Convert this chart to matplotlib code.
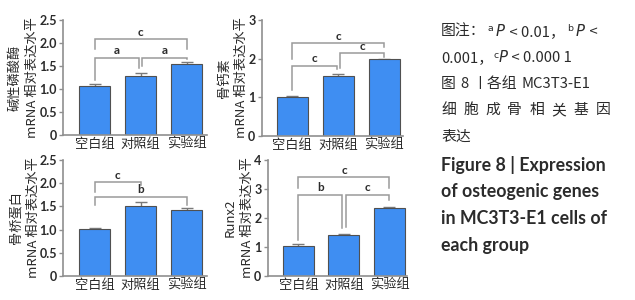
import matplotlib
matplotlib.use("Agg")
import matplotlib.pyplot as plt
from matplotlib.offsetbox import TextArea, HPacker, AnnotationBbox

CJK = ['Noto Sans CJK SC', 'DejaVu Sans']
LAT = ['Lato', 'DejaVu Sans']
plt.rcParams['font.family'] = CJK

# ---------------- data ----------------
groups = ["空白组", "对照组", "实验组"]

alp_mean = [1.07, 1.29, 1.55]
alp_err = [0.03, 0.06, 0.03]
ocn_mean = [1.02, 1.55, 1.98]
ocn_err = [0.02, 0.05, 0.02]
opn_mean = [1.01, 1.51, 1.43]
opn_err = [0.03, 0.08, 0.03]
runx2_mean = [1.03, 1.41, 2.33]
runx2_err = [0.06, 0.05, 0.06]

gene_labels = ["碱性磷酸酶", "骨钙素", "骨桥蛋白", "Runx2"]
ylabel_suffix = "mRNA 相对表达水平"

ticks_a = [0, 0.5, 1.0, 1.5, 2.0, 2.5]
ticklabels_a = ["0", "0.5", "1.0", "1.5", "2.0", "2.5"]
ticks_b = [0, 1, 2, 3]
ticklabels_b = ["0", "1", "2", "3"]
ticks_c = [0, 1, 2, 3, 4]
ticklabels_c = ["0", "1", "2", "3", "4"]

# significance brackets: (x_left, x_right, y_line, y_left_end, y_right_end, label)
brackets_alp = [(0, 2, 2.08, 1.86, 1.86, "c"),
                (0, 0.97, 1.68, 1.20, 1.45, "a"),
                (1.04, 2, 1.68, 1.49, 1.65, "a")]
brackets_ocn = [(0, 2, 2.40, 1.98, 2.29, "c"),
                (1.04, 2, 2.14, 1.77, 2.05, "c"),
                (0, 0.97, 1.81, 1.19, 1.72, "c")]
brackets_opn = [(0, 1.0, 2.02, 1.82, 1.96, "c"),
                (0, 2, 1.70, 1.53, 1.53, "b")]
brackets_runx2 = [(0, 2, 3.40, 3.02, 3.02, "c"),
                  (0, 0.95, 2.79, 1.24, 1.66, "b"),
                  (1.04, 2, 2.79, 1.70, 2.62, "c")]

caption_line1 = [("图注：", "cjk"), ("ᵃ", "sup"), ("P", "it"), (" < 0.01，", "cjk"),
                 ("ᵇ", "sup"), ("P", "it"), (" <", "cjk")]
caption_line2 = [("0.001，", "cjk"), ("ᶜ", "sup"), ("P", "it"), (" < 0.000 1", "cjk")]
caption_line3 = [("图", "cjk"), ("8", "cjk"), ("丨各组", "cjk"), ("MC3T3-E1", "cjk")]
caption_line4 = [(ch, "cjk") for ch in "细胞成骨相关基因"]
caption_line5 = [("表达", "cjk")]
caption_en = ["Figure 8 | Expression", "of osteogenic genes",
              "in MC3T3-E1 cells of", "each group"]

# ---------------- style / layout ----------------
W, H = 635, 300
BLUE = "#3f8ef2"
EDGE = "#505050"
GRAY = "#8f8f8f"
TXT = "#2b2b2b"

fig = plt.figure(figsize=(W / 100, H / 100), dpi=100)

panels = [
    dict(mean=alp_mean, err=alp_err, gene=gene_labels[0], ymax=2.5,
         ticks=ticks_a, tl=ticklabels_a, br=brackets_alp,
         rect=(63, 207, 20, 135), xlim=(-0.685, 2.445)),
    dict(mean=ocn_mean, err=ocn_err, gene=gene_labels[1], ymax=3,
         ticks=ticks_b, tl=ticklabels_b, br=brackets_ocn,
         rect=(261.7, 402.7, 20, 136), xlim=(-0.663, 2.40)),
    dict(mean=opn_mean, err=opn_err, gene=gene_labels[2], ymax=2.5,
         ticks=ticks_a, tl=ticklabels_a, br=brackets_opn,
         rect=(63.3, 206.5, 160, 276), xlim=(-0.685, 2.43)),
    dict(mean=runx2_mean, err=runx2_err, gene=gene_labels[3], ymax=4,
         ticks=ticks_c, tl=ticklabels_c, br=brackets_runx2,
         rect=(267.7, 406.7, 160, 276), xlim=(-0.677, 2.38)),
]

for p in panels:
    l, r, t, b = p["rect"]
    ax = fig.add_axes([l / W, 1 - b / H, (r - l) / W, (b - t) / H])
    x = list(range(len(groups)))
    ax.errorbar(x, p["mean"], yerr=p["err"], fmt="none", ecolor="#7a7a7a",
                elinewidth=1.0, capsize=4.5, capthick=1.0, zorder=1.5)
    ax.bar(x, p["mean"], width=0.68, color=BLUE, edgecolor=EDGE,
           linewidth=0.8, zorder=2)
    ax.set_xlim(*p["xlim"])
    ax.set_ylim(0, p["ymax"])
    ax.set_xticks(x)
    ax.set_xticklabels(groups, fontsize=9.5, color=TXT)
    ax.set_yticks(p["ticks"])
    ax.set_yticklabels(p["tl"], fontsize=9, fontweight="bold", color=TXT,
                       family=LAT)
    ax.tick_params(axis="x", length=0, pad=2)
    ax.tick_params(axis="y", length=3, width=1.0, color=GRAY, pad=1.5)
    for s in ["top", "right"]:
        ax.spines[s].set_visible(False)
    for s in ["left", "bottom"]:
        ax.spines[s].set_color(GRAY)
        ax.spines[s].set_linewidth(1.2)
    ax.set_ylabel(p["gene"] + "\n" + ylabel_suffix, fontsize=9.5, color=TXT,
                  linespacing=1.45, labelpad=0)
    for (x1, x2, y, yl, yr, lab) in p["br"]:
        ax.plot([x1, x1, x2, x2], [yl, y, y, yr], color="#9a9a9a", lw=1.1,
                solid_joinstyle="miter", zorder=3, clip_on=False)
        ax.annotate(lab, xy=((x1 + x2) / 2, y), xytext=(0, 1.2),
                    textcoords="offset points", ha="center", va="bottom",
                    fontsize=8.5, fontweight="bold", color=TXT, family=LAT,
                    annotation_clip=False)

# ---------------- caption ----------------
FS = 10.7
props = {
    "cjk": dict(fontsize=FS, color=TXT, family=CJK),
    "sup": dict(fontsize=FS, color=TXT, family=['DejaVu Sans']),
    "it": dict(fontsize=FS, color=TXT, family=['DejaVu Sans'], style="italic"),
    "en": dict(fontsize=12.8, color=TXT, family=LAT, fontweight="bold"),
}


def put_line(pieces, y_px, sep=0.0):
    boxes = [TextArea(t, textprops=props[k]) for t, k in pieces]
    pack = HPacker(children=boxes, align="baseline", pad=0, sep=sep)
    ab = AnnotationBbox(pack, (441 / W, 1 - y_px / H), xycoords="figure fraction",
                        box_alignment=(0, 0.5), frameon=False, pad=0)
    fig.add_artist(ab)


put_line(caption_line1, 31.5, sep=1.4)
put_line(caption_line2, 58)
put_line(caption_line3, 84, sep=3.0)
put_line(caption_line4, 110, sep=5.2)
put_line(caption_line5, 137)
for i, s in enumerate(caption_en):
    put_line([(s, "en")], 165 + i * 26.7)

fig.savefig("out.png", dpi=100)
